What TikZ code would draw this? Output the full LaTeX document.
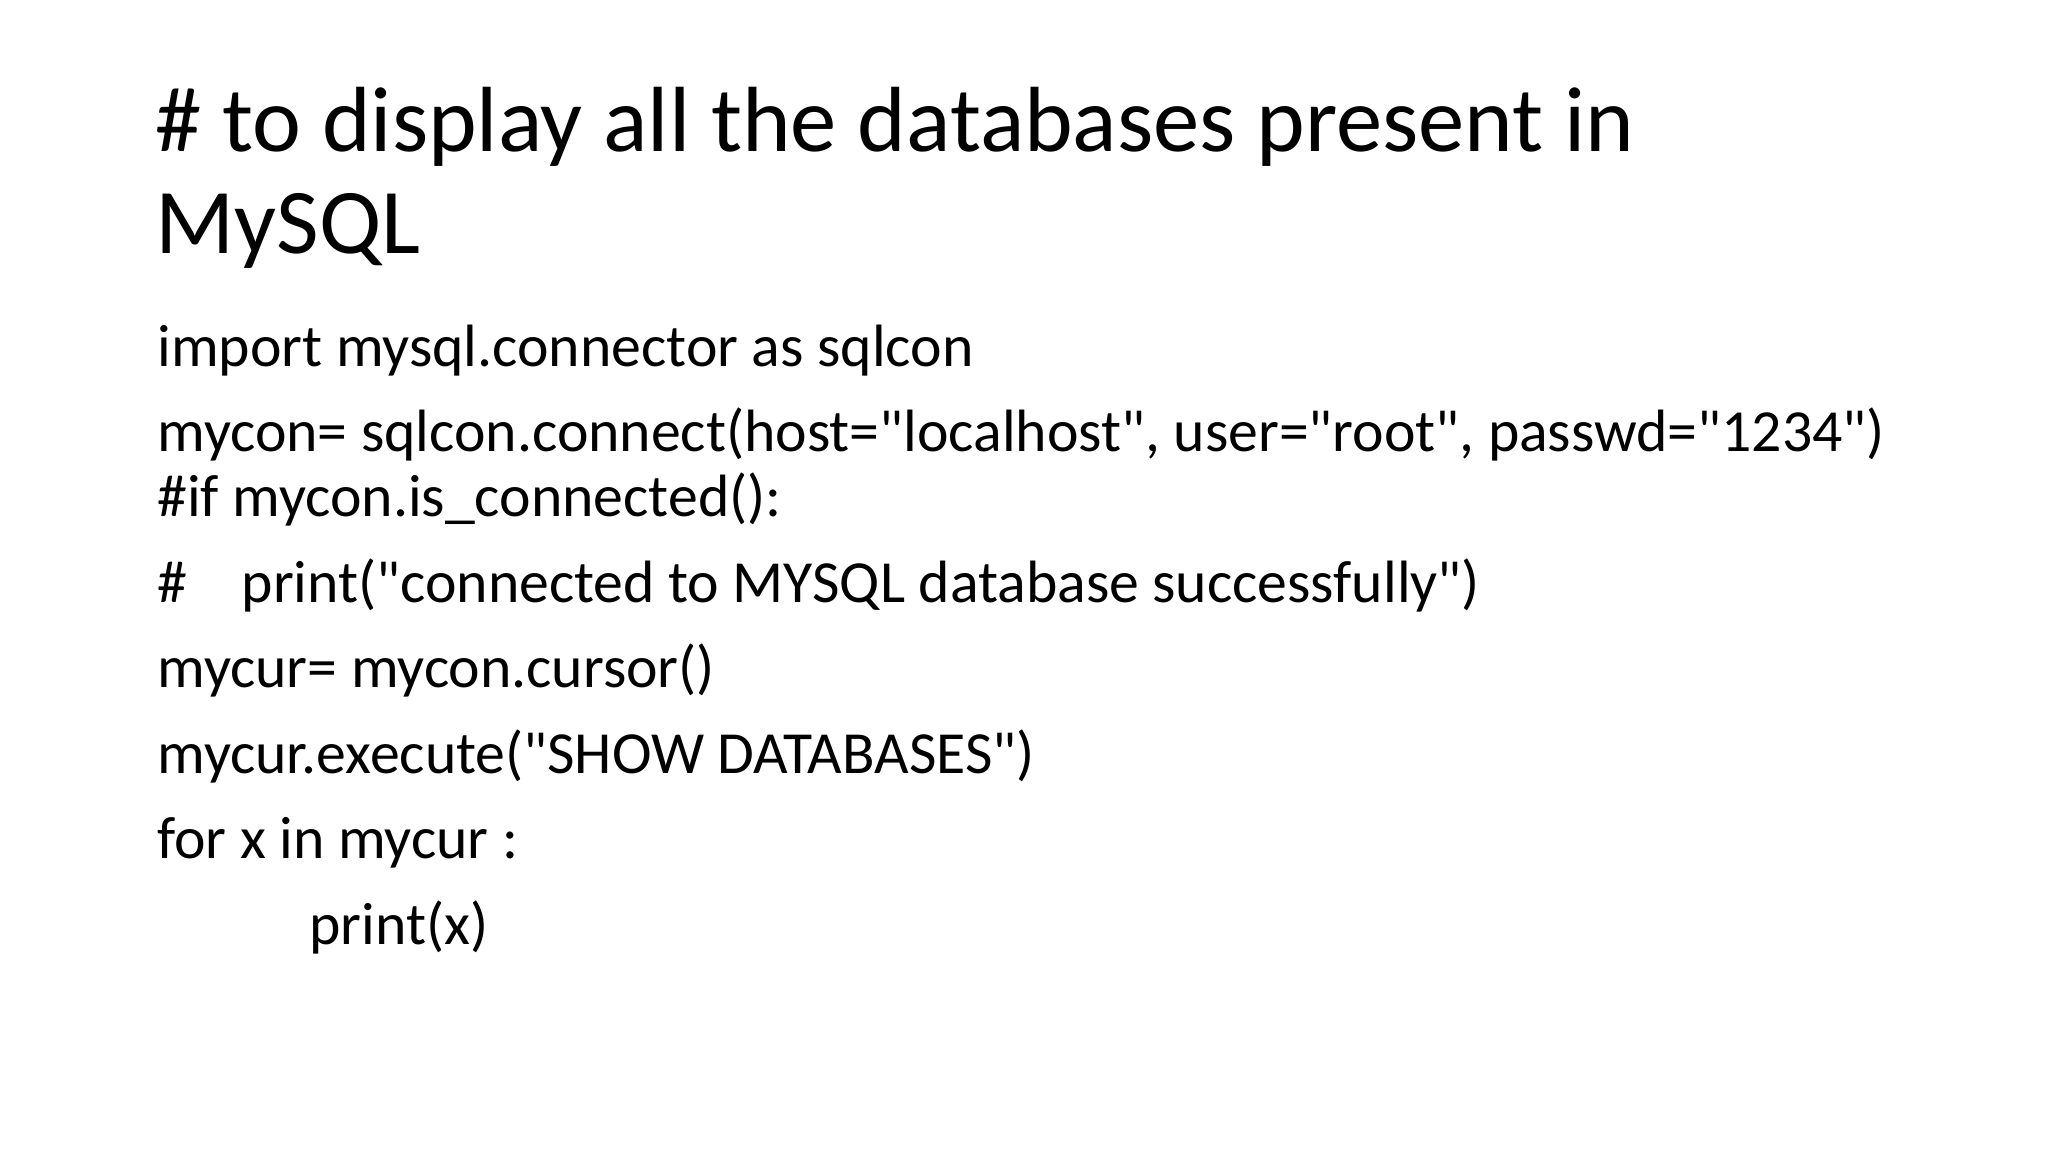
\documentclass[tikz,border=0pt]{standalone}
\usepackage{fontspec}
\newfontfamily\slidefont{Carlito}

\tikzset{
  heading/.style={anchor=base west, inner sep=0pt, font=\slidefont\fontsize{43.4bp}{48bp}\selectfont},
  codeline/.style={anchor=base west, inner sep=0pt, font=\slidefont\fontsize{28bp}{30bp}\selectfont},
}

\begin{document}
\begin{tikzpicture}[x=0.46875bp, y=-0.46875bp]
    \useasboundingbox[fill=white] (0,0) rectangle (2048,1152);

    % Title
    \node[heading] (title1) at (155,151) {\# to display all the databases present in};
    \node[heading] (title2) at (155,253) {MySQL};

    % Code lines
    \node[codeline] (import) at (157,366) {import mysql.connector as sqlcon};
    \node[codeline] (connect) at (157,451) {mycon= sqlcon.connect(host="localhost", user="root", passwd="1234")};
    \node[codeline] (ifcon) at (157,516) {\#if mycon.is\_connected():};
    \node[codeline] (printcon) at (157,602) {\makebox[39.5bp][l]{\#}print("connected to MYSQL database successfully")};
    \node[codeline] (cursor) at (157,687) {mycur= mycon.cursor()};
    \node[codeline] (execute) at (157,773) {mycur.execute("SHOW DATABASES")};
    \node[codeline] (loop) at (157,858) {for x in mycur :};
    \node[codeline] (printx) at (309,944) {print(x)};
\end{tikzpicture}
\end{document}
